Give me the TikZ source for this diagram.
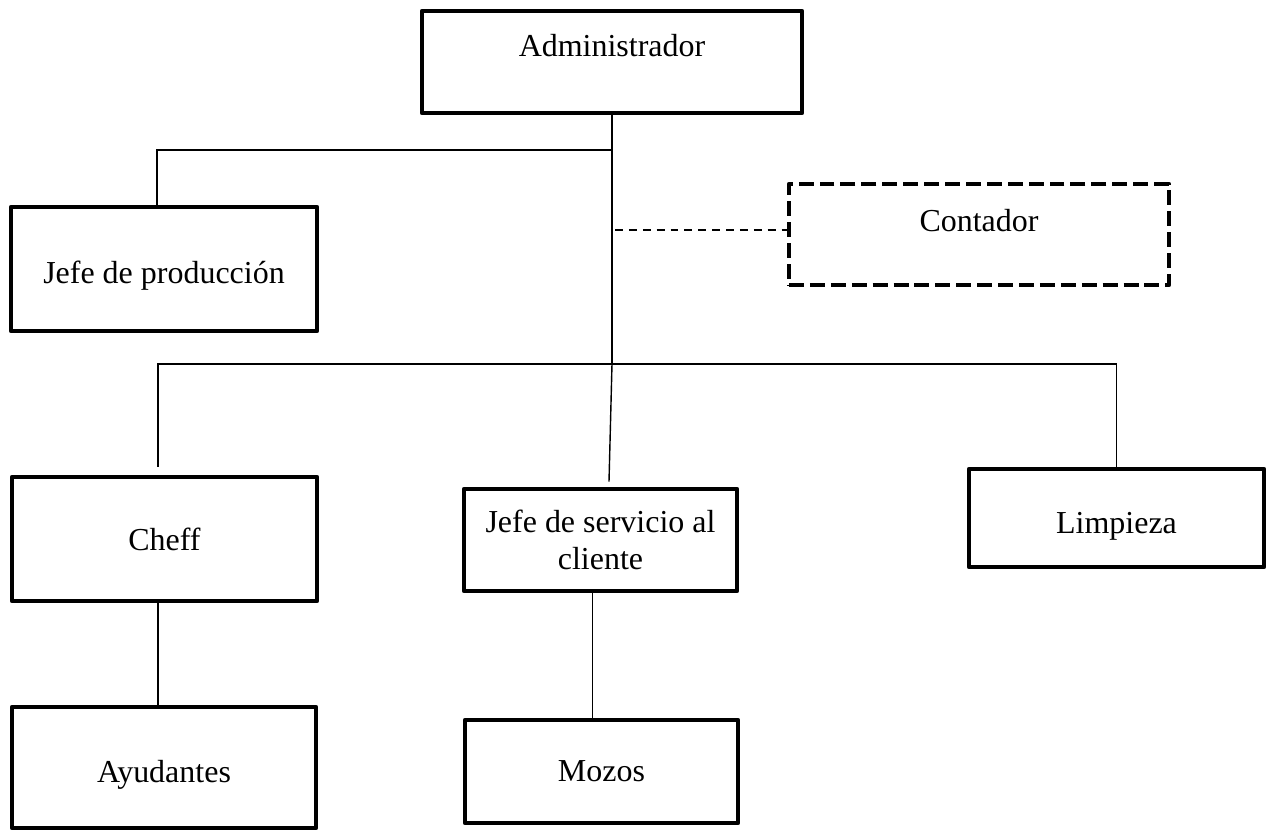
\documentclass[tikz,border=0pt]{standalone}
\usepackage{fontspec}
\setmainfont{Liberation Serif}
\usetikzlibrary{calc}
\begin{document}
\begin{tikzpicture}[x=0.02cm, y=-0.02cm,
  every node/.style={font=\fontsize{18.2}{21}\selectfont},
  puesto/.style={draw, rectangle, line width=2.7pt, line join=round, inner sep=2pt, align=center, text depth=0pt},
  asesor/.style={puesto, dash pattern=on 8.5pt off 3.4pt},
  enlace/.style={line width=0.8pt},
  apoyo/.style={line width=0.85pt, dash pattern=on 4.5pt off 3.4pt}]
\useasboundingbox (0,0) rectangle (1269,833);
\node[puesto, minimum width=7.6cm, minimum height=2.04cm, text depth=19.4pt] (admin) at (612,62) {Administrador};
\node[puesto, minimum width=6.12cm, minimum height=2.48cm, text height=16pt] (jprod) at (164,269) {Jefe de producción};
\node[asesor, minimum width=7.6cm, minimum height=2.02cm, text depth=15.5pt] (cont) at (979,234.5) {Contador};
\node[puesto, minimum width=6.1cm, minimum height=2.48cm] (cheff) at (164.5,539) {Cheff};
\node[puesto, minimum width=5.46cm, minimum height=2.04cm] (jsc) at (600.5,540) {Jefe de servicio al\\cliente};
\node[puesto, minimum width=5.9cm, minimum height=1.96cm, text height=18pt] (limp) at (1116.5,518) {Limpieza};
\node[puesto, minimum width=6.08cm, minimum height=2.42cm, text height=17.5pt] (ayud) at (164,767.5) {Ayudantes};
\node[puesto, minimum width=5.46cm, minimum height=2.06cm] (mozos) at (601.5,771.5) {Mozos};
\coordinate (j1) at (612,150);
\coordinate (j2) at (612,364);
\coordinate (j3) at (615,230);
\draw[enlace] (admin.south) -- (j2);
\draw[enlace] (j1) -| ($(jprod.north)+(-7,0)$);
\draw[apoyo] (j3) -- (j3 -| cont.west);
\draw[enlace] ($(cheff.north)+(-6.5,-8)$) |- (j2) -| (limp.north);
\draw[enlace] (j2) -- ($(jsc.north)+(8.5,-5)$);
\draw[enlace] ($(cheff.south)+(-6.5,0)$) coordinate (c1) -- (c1 |- ayud.north);
\draw[enlace] ($(jsc.south)+(-8,0)$) coordinate (c2) -- (c2 |- mozos.north);
\end{tikzpicture}
\end{document}
